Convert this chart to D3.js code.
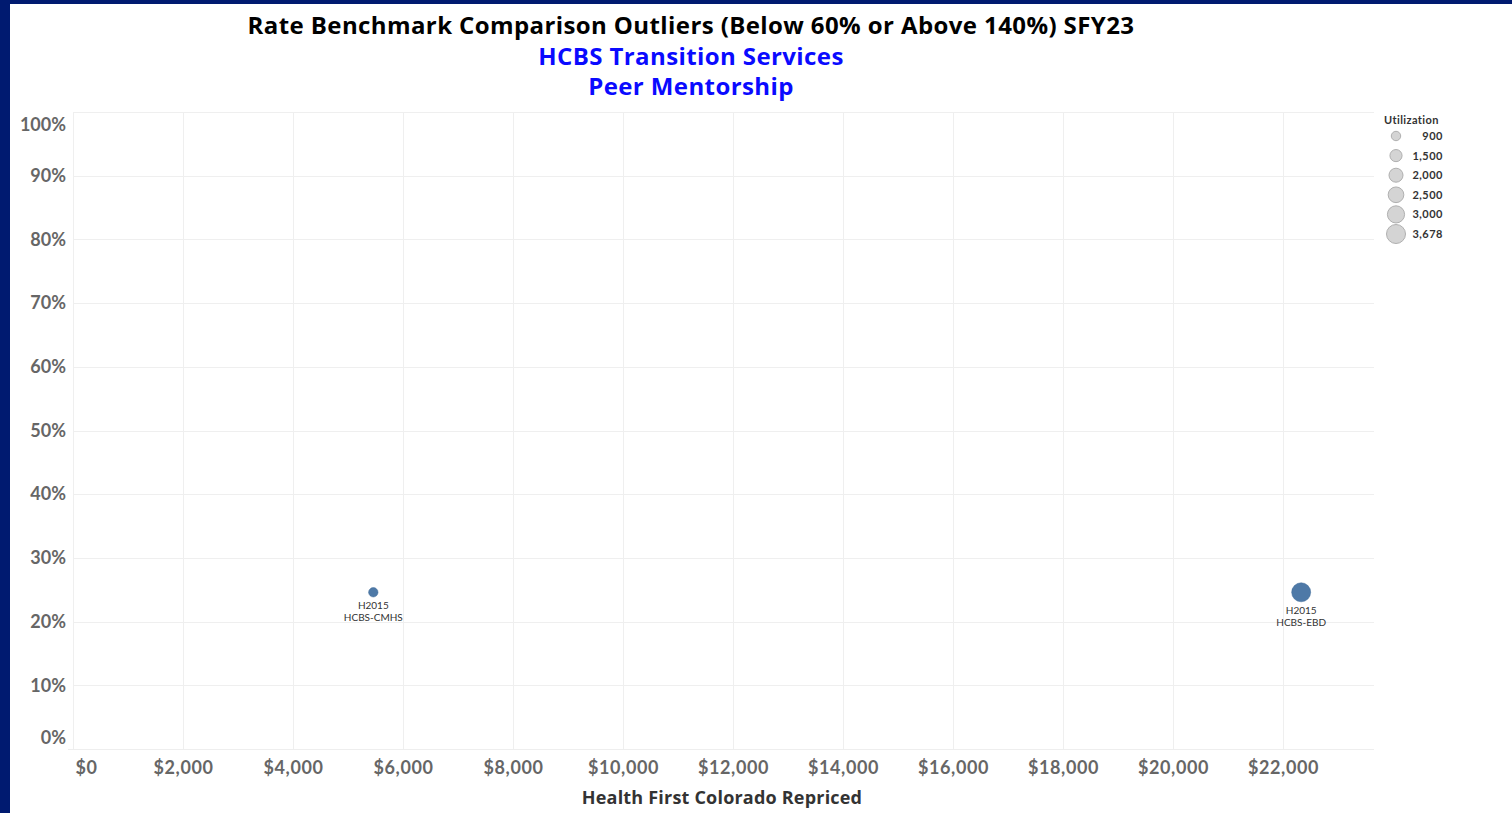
<!DOCTYPE html>
<html>
<head>
<meta charset="utf-8">
<script src="https://cdn.jsdelivr.net/npm/d3@7"></script>
<style>
  html, body { margin: 0; padding: 0; background: #001a70; }
  #frame { position: absolute; left: 10px; top: 4px; width: 1502px; height: 809px; background: #fff; }
  text { font-family: Lato, "Open Sans", sans-serif; }
  .ttl { font-family: "Open Sans", Lato, sans-serif; }
</style>
</head>
<body>
<div id="frame"></div>
<script>
// data
const categories = ["H2015\nHCBS-CMHS", "H2015\nHCBS-EBD"];
const repriced = [5460, 22330];
const benchmarkPct = [0.246, 0.246];
const utilization = [900, 3678];
const legendValues = [900, 1500, 2000, 2500, 3000, 3678];
const xTicks = d3.range(0, 22001, 2000);
const yTicks = d3.range(0, 1.001, 0.1);

const width = 1512, height = 813;
const plotLeft = 73, plotRight = 1374, plotTop = 112, plotBottom = 749;

const svg = d3.select("body").append("svg")
    .attr("width", width).attr("height", height)
    .style("position", "absolute").style("left", 0).style("top", 0);

const x = d3.scaleLinear().domain([0, 23654]).range([plotLeft, plotRight]);
const y = d3.scaleLinear().domain([0, 1]).range([plotBottom, plotTop]);
const r = d3.scaleSqrt().domain([0, 3678]).range([0, 9.5]);

// titles
const titles = [
  ["Rate Benchmark Comparison Outliers (Below 60% or Above 140%) SFY23", 34, "#000"],
  ["HCBS Transition Services", 65, "#0a0aff"],
  ["Peer Mentorship", 95, "#0a0aff"]
];
titles.forEach(([t, ty, col]) => {
  svg.append("text").attr("class", "ttl").attr("x", 691).attr("y", ty)
      .attr("text-anchor", "middle").attr("font-size", 24).attr("font-weight", "bold")
      .attr("fill", col).style("letter-spacing", "0.4px").text(t);
});

// grid
const grid = svg.append("g").attr("stroke", "#efefef").attr("stroke-width", 1);
grid.selectAll(".vx").data(xTicks).join("line")
    .attr("x1", d => Math.round(x(d)) + 0.5).attr("x2", d => Math.round(x(d)) + 0.5)
    .attr("y1", plotTop).attr("y2", plotBottom);
grid.selectAll(".hy").data(yTicks).join("line")
    .attr("x1", plotLeft).attr("x2", plotRight)
    .attr("y1", d => Math.round(y(d)) + 0.5).attr("y2", d => Math.round(y(d)) + 0.5);

// axes (labels only, styled like the source)
const xAxis = svg.append("g").attr("transform", `translate(0,${plotBottom})`)
    .call(d3.axisBottom(x).tickValues(xTicks).tickSize(0).tickPadding(12)
        .tickFormat(d => "$" + d3.format(",")(d)));
xAxis.select(".domain").attr("stroke", "#eeeeee").attr("d", `M${plotLeft - 5},0.5H${plotRight}`);
xAxis.selectAll("text").attr("font-size", 18).attr("font-weight", "bold")
    .attr("fill", "#666").attr("font-family", "Lato, sans-serif")
    .attr("dx", d => d === 0 ? 13 : 0)
    .style("letter-spacing", "0.6px");

const yAxis = svg.append("g").attr("transform", `translate(${plotLeft - 7},0)`)
    .call(d3.axisLeft(y).tickValues(yTicks).tickSize(0).tickPadding(0)
        .tickFormat(d3.format(".0%")));
yAxis.select(".domain").remove();
yAxis.selectAll("text").attr("font-size", 18).attr("font-weight", "bold")
    .attr("fill", "#666").attr("font-family", "Lato, sans-serif")
    .attr("dy", d => d >= 0.999 ? "1.0em" : d <= 0.001 ? "-0.3em" : "0.32em");

svg.append("text").attr("class", "ttl").attr("x", 722).attr("y", 804).attr("text-anchor", "middle")
    .attr("font-size", 18).attr("font-weight", "bold").attr("fill", "#333")
    .style("letter-spacing", "0.2px")
    .text("Health First Colorado Repriced");

// points
const pts = svg.append("g");
categories.forEach((c, i) => {
  const cx = x(repriced[i]), cy = y(benchmarkPct[i]), rr = r(utilization[i]);
  pts.append("circle").attr("cx", cx).attr("cy", cy).attr("r", rr)
      .attr("fill", "#4e79a7").attr("stroke", "#3f6a98").attr("stroke-width", 0.5);
  c.split("\n").forEach((line, k) => {
    pts.append("text").attr("x", cx).attr("y", cy + rr + 12 + k * 12)
        .attr("text-anchor", "middle").attr("font-size", 10).attr("fill", "#333")
        .attr("font-family", "Lato, sans-serif")
        .text(line);
  });
});

// size legend
const lg = svg.append("g");
lg.append("text").attr("x", 1384).attr("y", 124).attr("font-size", 11)
    .attr("font-weight", "bold").attr("fill", "#333")
    .style("letter-spacing", "0.4px").text("Utilization");
legendValues.forEach((v, i) => {
  const cy = 136 + i * 19.6;
  lg.append("circle").attr("cx", 1396).attr("cy", cy).attr("r", r(v))
      .attr("fill", "#d4d4d4").attr("stroke", "#b0b0b0").attr("stroke-width", 1);
  lg.append("text").attr("x", 1443).attr("y", cy + 4).attr("text-anchor", "end")
      .attr("font-size", 11).attr("font-weight", "bold").attr("fill", "#333")
      .style("letter-spacing", "0.5px")
      .text(d3.format(",")(v));
});
</script>
</body>
</html>
